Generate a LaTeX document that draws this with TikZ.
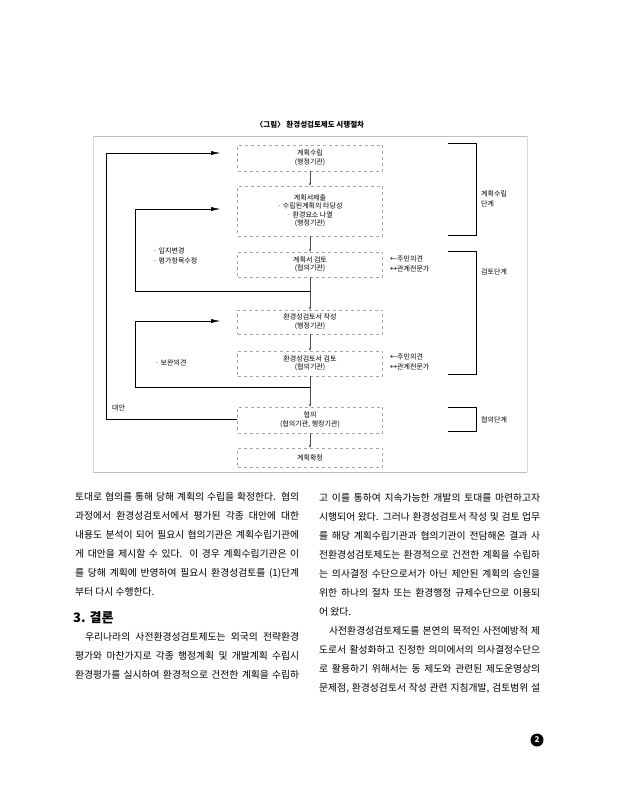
\documentclass[tikz,border=0pt]{standalone}
\usepackage{fontspec}
\setmainfont{Noto Sans CJK KR}
\usetikzlibrary{positioning,arrows.meta}

\tikzset{
  stepbox/.style={draw=gray!70, dashed, minimum width=145pt, font=\fontsize{7}{8.5}\selectfont, align=center, inner sep=1pt},
  small/.style={font=\fontsize{7}{8.5}\selectfont, align=left, inner sep=0pt},
  flow/.style={-{Stealth[length=3pt]}, gray!60!black, line width=0.3pt},
  loop/.style={-{Latex[length=9pt,width=4pt]}, line width=0.4pt},
  body/.style={font=\fontsize{9.8}{12}\selectfont, inner sep=0pt, anchor=west}
}
\newcommand{\colL}[3][0pt]{\node[body] at (75,#2) {\hspace*{#1}\makebox[\dimexpr224pt-#1\relax][s]{#3}};}
\newcommand{\colR}[3][0pt]{\node[body] at (319,#2) {\hspace*{#1}\makebox[\dimexpr221pt-#1\relax][s]{#3}};}
\newcommand{\colEnd}[3]{\node[body] at (#1,#2) {#3};}

\begin{document}
\begin{tikzpicture}[x=1pt, y=-1pt]
\useasboundingbox (0,0) rectangle (618,800);

\node[font=\fontsize{7.5}{9}\selectfont\bfseries] (title) at (310,125) {〈그림〉 환경성검토제도 시행절차};
\draw[gray!50, line width=0.5pt] (93,136) -- (527,136);
\draw[gray!50, line width=0.5pt] (93,472) -- (527,472);
\draw[gray!30] (93,136) -- (93,472);
\draw[gray!30] (527,136) -- (527,472);

% boxes
\node[stepbox, minimum height=26pt] (plan) at (310,158) {계획수립\\(행정기관)};
\node[stepbox, minimum height=50pt] (submit) at (310,211) {계획서제출\\· 수립된계획의 타당성\\· 환경요소 나열\\(행정기관)};
\node[stepbox, minimum height=25pt] (review) at (310,264.5) {계획서 검토\\(협의기관)};
\node[stepbox, minimum height=24pt] (write) at (310,322) {환경성검토서 작성\\(행정기관)};
\node[stepbox, minimum height=25pt] (check) at (310,363.5) {환경성검토서 검토\\(협의기관)};
\node[stepbox, minimum height=26pt] (consult) at (310,420) {협의\\(협의기관, 행정기관)};
\node[stepbox, minimum height=19pt] (fix) at (310,457.5) {계획확정};

\draw[flow] (plan) -- (submit);
\draw[flow] (submit) -- (review);
\draw[flow] (review) -- (write);
\draw[flow] (check) -- (consult);
\draw[flow] (write) -- (check);
\draw[flow] (consult) -- (fix);

% feedback loops
\coordinate (a1) at (220,153);
\coordinate (a2) at (220,209);
\coordinate (a3) at (220,321);
\draw[loop] (consult.west |- 0,419) -- (106,419) -- (106,153) -- (a1);
\draw[loop] (310,291) -- (135,291) -- (135,209) -- (a2);
\draw[loop] (310,387) -- (135,387) -- (135,321) -- (a3);

\node[small, anchor=west] (alt) at (112,408) {대안};
\node[small, anchor=west] (loc) at (153,256) {· 입지변경\\[1pt]· 평가항목수정};
\node[small, anchor=west] (sup) at (155,363) {· 보완의견};

\node[small, anchor=west] (opin1) at (390,264) {←주민의견\\[1pt]↔관계전문가};
\node[small, anchor=west] (opin2) at (390,362) {←주민의견\\[1pt]↔관계전문가};

% stage brackets
\draw (448,143) -- (476,143) -- (476,235) -- (448,235);
\draw (448,251) -- (476,251) -- (476,374) -- (448,374);
\draw (448,407) -- (476,407) -- (476,431) -- (448,431);
\node[small, anchor=west] (st1) at (481,199) {계획수립\\[1pt]단계};
\node[small, anchor=west] (st2) at (481,272) {검토단계};
\node[small, anchor=west] (st3) at (481,420) {협의단계};

% body text, left column
\colL{497}{토대로 협의를 통해 당해 계획의 수립을 확정한다. 협의}
\colL{516}{과정에서 환경성검토서에서 평가된 각종 대안에 대한}
\colL{535}{내용도 분석이 되어 필요시 협의기관은 계획수립기관에}
\colL{554}{게 대안을 제시할 수 있다. 이 경우 계획수립기관은 이}
\colL{573}{를 당해 계획에 반영하여 필요시 환경성검토를 (1)단계}
\colEnd{75}{592}{부터 다시 수행한다.}
\node[font=\fontsize{13}{15}\selectfont\bfseries, anchor=west, inner sep=0pt] (head) at (73,618) {3. 결론};
\colL[10pt]{637}{우리나라의 사전환경성검토제도는 외국의 전략환경}
\colL{656}{평가와 마찬가지로 각종 행정계획 및 개발계획 수립시}
\colL{675}{환경평가를 실시하여 환경적으로 건전한 계획을 수립하}

% body text, right column
\colR{498}{고 이를 통하여 지속가능한 개발의 토대를 마련하고자}
\colR{517}{시행되어 왔다. 그러나 환경성검토서 작성 및 검토 업무}
\colR{536}{를 해당 계획수립기관과 협의기관이 전담해온 결과 사}
\colR{555}{전환경성검토제도는 환경적으로 건전한 계획을 수립하}
\colR{574}{는 의사결정 수단으로서가 아닌 제안된 계획의 승인을}
\colR{593}{위한 하나의 절차 또는 환경행정 규제수단으로 이용되}
\colEnd{319}{612}{어 왔다.}
\colR[10pt]{631}{사전환경성검토제도를 본연의 목적인 사전예방적 제}
\colR{650}{도로서 활성화하고 진정한 의미에서의 의사결정수단으}
\colR{669}{로 활용하기 위해서는 동 제도와 관련된 제도운영상의}
\colR{688}{문제점, 환경성검토서 작성 관련 지침개발, 검토범위 설}

\node[circle, fill=black, text=white, inner sep=0.5pt, minimum size=13pt, font=\fontsize{8}{8}\selectfont\bfseries] (page) at (537,740) {2};
\end{tikzpicture}
\end{document}
